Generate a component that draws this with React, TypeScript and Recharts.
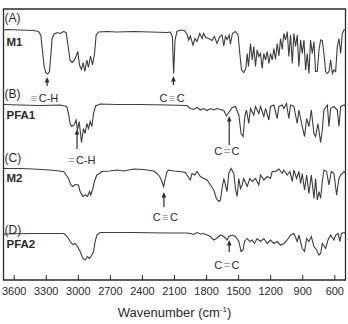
import React from 'react';
import { LineChart, Line, XAxis, YAxis, ReferenceArea, ReferenceDot, Label } from 'recharts';

// Wavenumber axis ticks (cm^-1)
const MAJOR_TICKS = [3600, 3300, 3000, 2700, 2400, 2100, 1800, 1500, 1200, 900, 600];
const MINOR_TICKS = [3450, 3150, 2850, 2550, 2250, 1950, 1650, 1350, 1050, 750];

// Spectra: [wavenumber, relative transmittance %]
const M1_SPECTRUM: [number, number][] = [
  [3700, 96], [3670, 97], [3545, 96], [3420, 95], [3373, 93], [3351, 86], [3336, 56], [3320, 23], [3305, 11], [3286, 8],
  [3270, 13], [3258, 43], [3245, 79], [3227, 88], [3195, 91], [3170, 89], [3139, 93], [3114, 91], [3095, 63], [3077, 35],
  [3058, 31], [3039, 35], [3020, 44], [3005, 53], [2989, 26], [2970, 17], [2955, 31], [2939, 13], [2920, 36], [2905, 21],
  [2886, 44], [2867, 26], [2848, 49], [2833, 86], [2811, 92], [2733, 93], [2639, 92], [2483, 93], [2327, 92], [2170, 91],
  [2139, 92], [2120, 83], [2108, 9], [2095, 76], [2077, 93], [2045, 96], [2008, 95], [1983, 88], [1967, 76], [1952, 84],
  [1927, 66], [1908, 79], [1889, 73], [1864, 89], [1842, 79], [1827, 89], [1808, 81], [1780, 79], [1748, 75], [1727, 83],
  [1702, 69], [1677, 83], [1655, 86], [1639, 64], [1623, 83], [1608, 77], [1589, 86], [1577, 68], [1558, 89], [1530, 93],
  [1505, 86], [1489, 49], [1473, 16], [1452, 11], [1433, 19], [1420, 49], [1408, 23], [1389, 69], [1373, 36], [1358, 63],
  [1342, 23], [1327, 56], [1311, 43], [1295, 49], [1280, 19], [1264, 49], [1248, 36], [1233, 53], [1217, 29], [1202, 49],
  [1186, 36], [1170, 59], [1155, 37], [1139, 69], [1123, 44], [1108, 79], [1092, 57], [1077, 89], [1061, 76], [1045, 93],
  [1030, 43], [1014, 86], [998, 29], [983, 89], [967, 63], [952, 86], [936, 23], [920, 76], [905, 49], [889, 76],
  [873, 16], [858, 49], [842, 9], [827, 76], [811, 49], [795, 73], [780, 13], [764, 13], [748, 56], [733, 76],
  [717, 75], [702, 49], [686, 13], [670, 9], [655, 13], [639, 36], [623, 9], [608, 16], [592, 13], [577, 63],
  [561, 79], [545, 49], [530, 89], [514, 96], [500, 97],
];

const PFA1_SPECTRUM: [number, number][] = [
  [3700, 97], [3545, 96], [3358, 95], [3170, 96], [3108, 93], [3092, 79], [3077, 59], [3061, 53], [3039, 56], [3020, 66],
  [3008, 46], [2992, 63], [2970, 21], [2952, 49], [2936, 39], [2920, 59], [2905, 49], [2889, 63], [2873, 53], [2858, 79],
  [2839, 94], [2795, 98], [2639, 97], [2420, 97], [2170, 96], [1983, 95], [1952, 89], [1920, 87], [1889, 91], [1858, 86],
  [1827, 89], [1795, 85], [1764, 89], [1733, 86], [1702, 89], [1670, 87], [1639, 85], [1614, 74], [1592, 81], [1561, 91],
  [1530, 93], [1498, 76], [1477, 39], [1458, 33], [1442, 73], [1427, 86], [1405, 59], [1389, 89], [1358, 76], [1342, 93],
  [1311, 79], [1295, 93], [1264, 73], [1248, 89], [1217, 66], [1202, 93], [1170, 96], [1139, 69], [1123, 93], [1092, 96],
  [1077, 89], [1052, 99], [1030, 69], [1014, 96], [983, 93], [952, 59], [936, 86], [905, 53], [883, 33], [864, 69],
  [842, 53], [820, 86], [795, 39], [780, 33], [758, 59], [733, 21], [717, 46], [702, 86], [670, 96], [655, 53],
  [639, 89], [608, 93], [577, 86], [561, 53], [545, 93], [514, 96], [500, 94],
];

const M2_SPECTRUM: [number, number][] = [
  [3700, 95], [3545, 95], [3420, 94], [3264, 92], [3139, 89], [3123, 85], [3092, 75], [3070, 62], [3052, 59], [3030, 63],
  [2999, 62], [2983, 49], [2958, 39], [2936, 42], [2914, 39], [2895, 49], [2883, 42], [2864, 55], [2849, 69], [2827, 82],
  [2802, 85], [2780, 89], [2702, 90], [2639, 92], [2577, 90], [2483, 94], [2389, 93], [2295, 90], [2264, 85], [2239, 79],
  [2217, 69], [2202, 59], [2186, 75], [2170, 89], [2155, 92], [2108, 90], [2045, 89], [1998, 87], [1983, 82], [1952, 72],
  [1936, 85], [1911, 82], [1889, 89], [1858, 79], [1827, 75], [1795, 72], [1764, 62], [1733, 52], [1708, 35], [1686, 29],
  [1670, 32], [1655, 55], [1639, 75], [1623, 62], [1608, 49], [1592, 85], [1570, 95], [1545, 85], [1530, 55], [1514, 39],
  [1498, 75], [1483, 55], [1467, 62], [1452, 75], [1420, 59], [1395, 75], [1373, 69], [1342, 75], [1311, 62], [1295, 82],
  [1264, 72], [1233, 79], [1202, 75], [1186, 89], [1155, 89], [1123, 94], [1092, 85], [1077, 92], [1045, 82], [1020, 89],
  [998, 69], [983, 92], [958, 75], [936, 89], [920, 65], [905, 85], [883, 52], [864, 82], [842, 45], [820, 82],
  [795, 35], [780, 75], [764, 32], [748, 49], [733, 35], [717, 69], [702, 92], [677, 89], [655, 62], [633, 89],
  [608, 85], [583, 42], [561, 75], [545, 82], [514, 89], [500, 85],
];

const PFA2_SPECTRUM: [number, number][] = [
  [3700, 94], [3420, 95], [3139, 95], [3123, 93], [3092, 85], [3077, 79], [3052, 73], [3030, 75], [3008, 69], [2983, 59],
  [2958, 45], [2936, 42], [2914, 49], [2895, 45], [2873, 52], [2858, 59], [2842, 79], [2827, 92], [2795, 97], [2483, 97],
  [2170, 96], [1983, 96], [1952, 95], [1920, 93], [1889, 97], [1858, 94], [1827, 95], [1795, 92], [1764, 89], [1733, 82],
  [1708, 85], [1670, 92], [1639, 89], [1608, 82], [1592, 89], [1561, 92], [1530, 89], [1498, 79], [1477, 59], [1458, 62],
  [1445, 79], [1420, 85], [1395, 79], [1373, 82], [1352, 75], [1327, 85], [1295, 79], [1264, 85], [1233, 75], [1202, 82],
  [1170, 75], [1139, 79], [1108, 72], [1077, 75], [1045, 82], [1014, 92], [983, 95], [952, 79], [936, 92], [905, 65],
  [883, 59], [864, 85], [842, 79], [820, 89], [795, 69], [770, 62], [748, 52], [733, 55], [717, 75], [686, 65],
  [664, 82], [639, 92], [608, 82], [592, 92], [570, 95], [552, 79], [539, 95], [514, 97], [500, 95],
];

const SERIES_NAMES = ['M1', 'PFA1', 'M2', 'PFA2'];
const PANEL_LETTERS = ['(A)', '(B)', '(C)', '(D)'];

// Peak annotations: series, arrow wavenumber, arrow tip (T units), label text and spot
const ANNOTATIONS = [
  { series: 'M1', w: 3292, tipT: 2, len: 9, label: '≡C-H', labelW: 3316, labelT: -40 },
  { series: 'M1', w: 2110, tipT: 4, len: 9, label: 'C≡C', labelW: 2123, labelT: -40 },
  { series: 'PFA1', w: 3012, tipT: 48, len: 20, label: '=C-H', labelW: 2967, labelT: -14 },
  { series: 'PFA1', w: 1588, tipT: 74, len: 29, label: 'C=C', labelW: 1610, labelT: 4 },
  { series: 'M2', w: 2199, tipT: 48, len: 15, label: 'C≡C', labelW: 2186, labelT: -2 },
  { series: 'PFA2', w: 1588, tipT: 82, len: 12, label: 'C=C', labelW: 1610, labelT: 32 },
];

// Layout: vertical stacking of the traces
const STACK_OFFSET: Record<string, number> = { M1: 202, PFA1: 127, M2: 64, PFA2: -1 };
const T_SCALE = 0.5;
const SPECTRA: Record<string, [number, number][]> = {
  M1: M1_SPECTRUM, PFA1: PFA1_SPECTRUM, M2: M2_SPECTRUM, PFA2: PFA2_SPECTRUM,
};

const FONT = 'Liberation Sans, Arial, Helvetica, sans-serif';
const INK = '#2a2a2a';
const LINE = '#3c3c3c';

const stackValue = (series: string, t: number) => STACK_OFFSET[series] + T_SCALE * t;

const ArrowShape = (len: number) => (props: any) => {
  const { cx, cy } = props;
  if (cx == null || cy == null) return null;
  return (
    <g>
      <line x1={cx} y1={cy + 3} x2={cx} y2={cy + len} stroke={INK} strokeWidth={1.2} />
      <path d={`M${cx},${cy} L${cx - 2.3},${cy + 5.5} L${cx + 2.3},${cy + 5.5} Z`} fill={INK} />
    </g>
  );
};

const LabelShape = (label: string) => (props: any) => {
  const { cx, cy } = props;
  if (cx == null || cy == null) return null;
  const parts = label.split(/([≡=])/).filter((p) => p.length > 0);
  return (
    <text x={cx} y={cy} textAnchor="middle" dominantBaseline="central" fontSize={11} fontFamily={FONT} fill={INK}>
      {parts.map((p, i) =>
        p === '≡' || p === '=' ? (
          <tspan key={i} fill="#a0a0a0" dx={i > 0 ? 1.5 : 0}>{p}</tspan>
        ) : (
          <tspan key={i} dx={i > 0 ? 1.5 : 0}>{p}</tspan>
        ),
      )}
    </text>
  );
};

const AxisTitle = (props: any) => {
  const vb = props.viewBox || {};
  const cx = (vb.x ?? 0) + (vb.width ?? 0) / 2;
  const y = (vb.y ?? 0) + 37;
  return (
    <text x={cx} y={y} textAnchor="middle" fontSize={13} fontFamily={FONT} fill={INK}>
      Wavenumber (cm
      <tspan fontSize={8} dy={-5}>-1</tspan>
      <tspan dy={5}>)</tspan>
    </text>
  );
};

// Panel label placement (px, overlay)
const PANEL_LABEL_POS = [
  { letterY: 21.5, nameY: 45.7 },
  { letterY: 97.5, nameY: 119 },
  { letterY: 162, nameY: 181.5 },
  { letterY: 233.5, nameY: 248 },
];

export default function App() {
  return (
    <div style={{ position: 'absolute', left: 0, top: 0, width: 348, height: 324, background: '#fff' }}>
      <LineChart width={348} height={324} margin={{ top: 9, right: 2.5, left: 3.5, bottom: 0 }}>
        <XAxis
          xAxisId="minor"
          type="number"
          dataKey="w"
          domain={[500, 3700]}
          reversed
          allowDataOverflow
          ticks={MINOR_TICKS}
          interval={0}
          tick={false}
          tickSize={-3}
          tickLine={{ stroke: INK, strokeWidth: 1 }}
          axisLine={false}
          height={0}
        />
        <XAxis
          type="number"
          dataKey="w"
          domain={[500, 3700]}
          reversed
          allowDataOverflow
          ticks={MAJOR_TICKS}
          interval={0}
          tickSize={-5}
          tickMargin={12}
          tickLine={{ stroke: INK, strokeWidth: 1 }}
          axisLine={false}
          height={44}
          tick={{ fontSize: 11, fill: INK, fontFamily: FONT }}
        >
          <Label content={<AxisTitle />} position="insideBottom" />
        </XAxis>
        <YAxis type="number" domain={[0, 271]} hide allowDataOverflow />
        <ReferenceArea x1={500} x2={3700} y1={0} y2={271} fill="none" stroke={INK} strokeWidth={1.3} ifOverflow="visible" />
        {SERIES_NAMES.map((name) => (
          <Line
            key={name}
            name={name}
            data={SPECTRA[name].map(([w, t]) => ({ w, v: stackValue(name, t) }))}
            dataKey="v"
            type="linear"
            stroke={LINE}
            strokeWidth={1.1}
            dot={false}
            activeDot={false}
            isAnimationActive={false}
          />
        ))}
        {ANNOTATIONS.map((a, i) => (
          <ReferenceDot
            key={`arrow-${i}`}
            x={a.w}
            y={stackValue(a.series, a.tipT)}
            ifOverflow="visible"
            shape={ArrowShape(a.len)}
          />
        ))}
        {ANNOTATIONS.map((a, i) => (
          <ReferenceDot
            key={`label-${i}`}
            x={a.labelW}
            y={stackValue(a.series, a.labelT)}
            ifOverflow="visible"
            shape={LabelShape(a.label)}
          />
        ))}
      </LineChart>
      <svg width={348} height={324} style={{ position: 'absolute', left: 0, top: 0, pointerEvents: 'none' }}>
        {SERIES_NAMES.map((name, i) => (
          <g key={name} fontFamily={FONT} fill={INK}>
            <text x={4.5} y={PANEL_LABEL_POS[i].letterY} fontSize={12}>{PANEL_LETTERS[i]}</text>
            <text x={6.5} y={PANEL_LABEL_POS[i].nameY} fontSize={11.5} fontWeight="bold">{name}</text>
          </g>
        ))}
      </svg>
    </div>
  );
}
